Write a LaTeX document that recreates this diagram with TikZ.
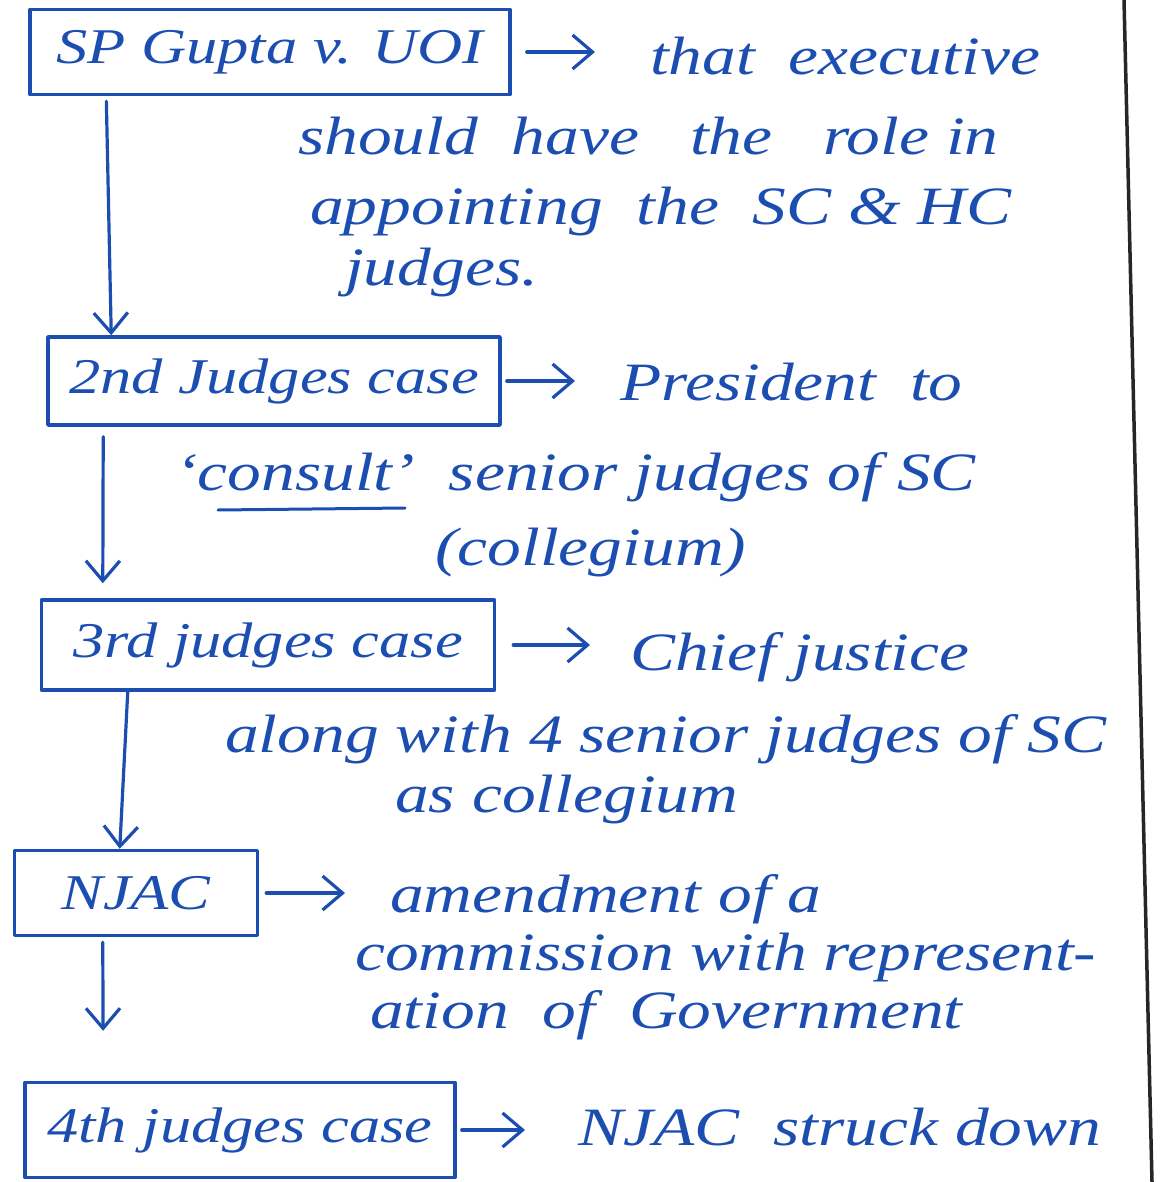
\documentclass[tikz,border=0pt]{standalone}
\usepackage{fontspec}
\setmainfont[FakeStretch=1.25]{Liberation Serif}
\usetikzlibrary{arrows.meta,positioning}
\definecolor{ink}{RGB}{28,78,178}

\begin{document}
\begin{tikzpicture}[
  x=1pt, y=-1pt,   % pixel-like grid, y grows downwards
  every path/.style={line cap=round, line join=round},
  casebox/.style={draw=ink, line width=3.5pt, text=ink, inner sep=0pt,
    font=\fontsize{50}{54}\selectfont\itshape},
  note/.style={anchor=base west, text=ink, inner sep=0pt,
    font=\fontsize{54}{60}\selectfont\itshape},
  flow/.style={draw=ink, line width=3.2pt,
    -{Straight Barb[length=20pt,width=34pt,line width=3.2pt]}}
]
\useasboundingbox (0,0) rectangle (1165,1182);

% ---------------- Case boxes ----------------
\node[casebox, minimum width=480, minimum height=85] (sp) at (270,52) {SP Gupta v. UOI};
\node[casebox, minimum width=452, minimum height=88] (second) at (274,381) {2nd Judges case};
\node[casebox, minimum width=453, minimum height=90] (third) at (268,645) {3rd judges case};
\node[casebox, minimum width=243, minimum height=85] (njac) at (136,893) {NJAC};
\node[casebox, minimum width=430, minimum height=95] (fourth) at (240,1130) {4th judges case};

% ---------------- Notes beside the boxes ----------------
\node[note] (exec) at (650,75) {that \ executive};
\node[note] (role) at (298,155) {should \ have \ \ the \ \ role in};
\node[note] (appoint) at (310,225) {appointing \ the \ SC \& HC};
\node[note] (judges) at (345,285) {judges.};

\node[note] (pres) at (620,400) {President \ to};
\node[note] (consult) at (175,490) {‘consult’ \ senior judges of SC};
\node[note] (colleg) at (435,565) {(collegium)};

\node[note] (cj) at (630,670) {Chief justice};
\node[note] (along) at (225,752) {along with 4 senior judges of SC};
\node[note] (ascol) at (395,812) {as collegium};

\node[note] (amend) at (390,912) {amendment of a};
\node[note] (comm) at (355,970) {commission with represent-};
\node[note] (ation) at (370,1028) {ation \ of \ Government};

\node[note] (struck) at (578,1145) {NJAC \ struck down};

% underline of 'consult'
\draw[ink, line width=3pt] ([xshift=43pt,yshift=-20pt]consult.base west) -- ++(187,-2);

% ---------------- Arrows to the notes ----------------
\draw[flow, shorten <=15pt, shorten >=55pt] (sp.east) -- (sp.east -| exec.west);
\draw[flow, shorten <=5pt, shorten >=45pt] (second.east) -- (second.east -| pres.west);
\draw[flow, shorten <=17pt, shorten >=40pt] (third.east) -- (third.east -| cj.west);
\draw[flow, shorten <=7pt, shorten >=45pt] (njac.east) -- (njac.east -| amend.west);
\draw[flow, shorten <=5pt, shorten >=53pt] (fourth.east) -- (fourth.east -| struck.west);

% ---------------- Arrows down the chain ----------------
\draw[flow, shorten <=5pt] ([xshift=78pt]sp.south west) -- ([xshift=65pt]second.north west);
\draw[flow, shorten <=10pt, shorten >=15pt] ([xshift=57pt]second.south west) -- ([xshift=63pt]third.north west);
\draw[flow] ([xshift=88pt]third.south west) -- ([xshift=107pt]njac.north west);
\draw[flow, shorten <=5pt, shorten >=50pt] ([xshift=90pt]njac.south west) -- ([xshift=80pt]fourth.north west);

% page edge
\draw[black!85, line width=3.5pt] (1124,0) -- (1152,1182);

\end{tikzpicture}
\end{document}
